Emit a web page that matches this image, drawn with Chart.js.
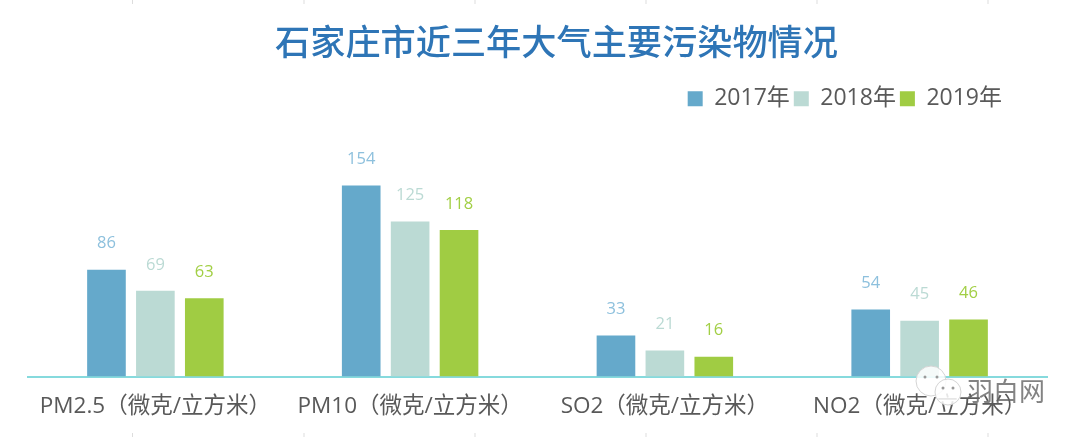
<!DOCTYPE html>
<html>
<head>
<meta charset="utf-8">
<style>
html, body { margin: 0; padding: 0; background: #fff; }
#wrap { position: relative; width: 1080px; height: 437px; }
</style>
<script src="https://cdn.jsdelivr.net/npm/chart.js@4"></script>
</head>
<body>
<div id="wrap"><canvas id="chart"></canvas></div>
<script>
var categories = ['PM2.5（微克/立方米）', 'PM10（微克/立方米）', 'SO2（微克/立方米）', 'NO2（微克/立方米）'];
var years = ['2017年', '2018年', '2019年'];
var values2017 = [86, 154, 33, 54];
var values2018 = [69, 125, 21, 45];
var values2019 = [63, 118, 16, 46];
var titleText = '石家庄市近三年大气主要污染物情况';
var watermarkText = '羽白网';

var FONT = '"Open Sans", "Noto Sans CJK SC", sans-serif';
var CJK_FONT = '"Noto Sans CJK SC", sans-serif';

// 标题和图例的位置微调
var shiftPlugin = {
    id: 'shift',
    afterLayout: function(chart) {
        chart.titleBlock.left += 38;
        chart.legend.right -= 41;
    }
};

// 柱子上方的数值
var barLabelPlugin = {
    id: 'barLabels',
    afterDatasetsDraw: function(chart) {
        var ctx = chart.ctx;
        ctx.save();
        ctx.font = '16.5px ' + FONT;
        ctx.textAlign = 'center';
        ctx.textBaseline = 'middle';
        chart.data.datasets.forEach(function(ds, i) {
            ctx.fillStyle = ds.labelColor;
            chart.getDatasetMeta(i).data.forEach(function(bar, j) {
                ctx.fillText(ds.data[j], bar.x, bar.y - 26);
            });
        });
        ctx.restore();
    }
};

// 水印和上下边缘的小刻度
var decorPlugin = {
    id: 'decor',
    afterDraw: function(chart) {
        var ctx = chart.ctx;
        ctx.save();
        ctx.strokeStyle = '#dddddd';
        ctx.lineWidth = 1;
        [132.5, 304, 475, 646, 817, 988].forEach(function(x) {
            ctx.beginPath();
            ctx.moveTo(x, 0);
            ctx.lineTo(x, 4);
            ctx.moveTo(x, 433);
            ctx.lineTo(x, 437);
            ctx.stroke();
        });
        ctx.fillStyle = 'rgba(255,255,255,0.85)';
        ctx.strokeStyle = '#d4d4d4';
        [[931, 381, 15], [948, 392, 13]].forEach(function(c) {
            ctx.beginPath();
            ctx.arc(c[0], c[1], c[2], 0, Math.PI * 2);
            ctx.fill();
            ctx.stroke();
        });
        ctx.fillStyle = '#9a9a9a';
        [[925, 377], [937, 377], [943, 388], [953, 388]].forEach(function(c) {
            ctx.beginPath();
            ctx.arc(c[0], c[1], 1.5, 0, Math.PI * 2);
            ctx.fill();
        });
        ctx.font = '26px ' + CJK_FONT;
        ctx.textAlign = 'left';
        ctx.textBaseline = 'middle';
        ctx.fillStyle = 'rgba(100,100,100,0.8)';
        ctx.fillText(watermarkText, 967, 391);
        ctx.restore();
    }
};

new Chart(document.getElementById('chart').getContext('2d'), {
    type: 'bar',
    data: {
        labels: categories,
        datasets: [
            { label: years[0], data: values2017, backgroundColor: '#65a9cb', labelColor: '#8dc0dd' },
            { label: years[1], data: values2018, backgroundColor: '#bbdad4', labelColor: '#bbdad4' },
            { label: years[2], data: values2019, backgroundColor: '#a0cc43', labelColor: '#a2cf45' }
        ]
    },
    options: {
        responsive: true,
        maintainAspectRatio: false,
        animation: false,
        devicePixelRatio: 1,
        layout: { padding: { left: 28, right: 33, top: 21, bottom: 0.5 } },
        datasets: { bar: { categoryPercentage: 0.576, barPercentage: 0.79 } },
        plugins: {
            title: {
                display: true,
                text: titleText,
                color: '#2e75b6',
                font: { family: CJK_FONT, size: 35.2, weight: 500 },
                padding: { top: 0, bottom: 20 }
            },
            legend: {
                position: 'top',
                align: 'end',
                labels: {
                    color: '#595959',
                    font: { family: FONT, size: 23 },
                    boxWidth: 15,
                    boxHeight: 15,
                    padding: 4
                }
            },
            tooltip: { enabled: false }
        },
        scales: {
            x: {
                grid: { display: false, drawTicks: false },
                border: { color: '#86dadd', width: 2 },
                ticks: {
                    color: '#595959',
                    font: { family: FONT, size: 22.5 },
                    padding: 16.5,
                    maxRotation: 0,
                    autoSkip: false
                }
            },
            y: { display: false, min: 0, max: 206.5 }
        }
    },
    plugins: [shiftPlugin, barLabelPlugin, decorPlugin]
});
</script>
</body>
</html>
